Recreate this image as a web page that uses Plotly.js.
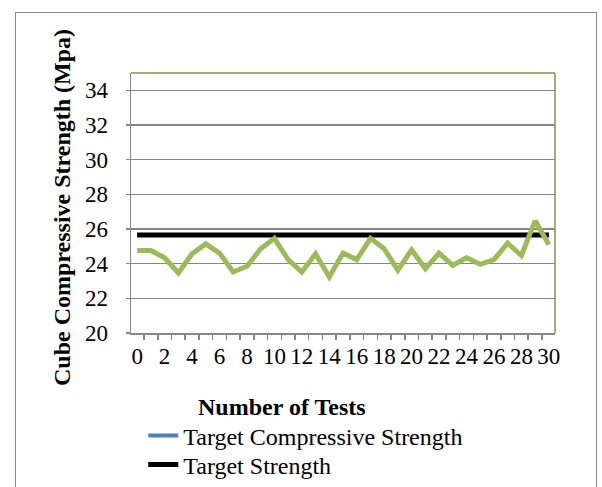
<!DOCTYPE html>
<html>
<head>
<meta charset="utf-8">
<script src="https://cdn.plot.ly/plotly-3.0.1.min.js"></script>
<style>
  html, body { margin: 0; padding: 0; background: #ffffff; }
  #frame { position: absolute; left: 15px; top: 12px; width: 582px; height: 490px; border: 1.5px solid #8c8c8c; box-sizing: border-box; }
  #chart { position: absolute; left: 0; top: 0; width: 602px; height: 487px; }
</style>
</head>
<body>
<div id="frame"></div>
<div id="chart"></div>
<script>
const tests = [0,1,2,3,4,5,6,7,8,9,10,11,12,13,14,15,16,17,18,19,20,21,22,23,24,25,26,27,28,29,30];
const strength = [24.76,24.76,24.34,23.46,24.57,25.14,24.61,23.52,23.85,24.86,25.46,24.23,23.52,24.57,23.23,24.61,24.23,25.46,24.86,23.62,24.80,23.71,24.61,23.90,24.34,23.96,24.23,25.18,24.47,26.47,25.10];
const targetValue = 25.65;
const xTickVals = [0,2,4,6,8,10,12,14,16,18,20,22,24,26,28,30];
const yTickVals = [20,22,24,26,28,30,32,34];
const seriesNames = ["Target Compressive Strength", "Target Strength"];
const xTitle = "Number of Tests";
const yTitle = "Cube Compressive Strength (Mpa)";

const targetY = tests.map(() => targetValue);
const font = "'Liberation Serif', 'Times New Roman', serif";

const traces = [
  { x: tests, y: targetY, mode: "lines", name: seriesNames[0], legend: "legend", line: { color: "#4F81BD", width: 4 } },
  { x: tests, y: targetY, mode: "lines", name: seriesNames[1], legend: "legend2", line: { color: "#000000", width: 5 } },
  { x: tests, y: strength, mode: "lines", name: "Strength", showlegend: false, line: { color: "#9BBB59", width: 5 } }
];

const legendBase = {
  xref: "container", yref: "container", x: 0.238, xanchor: "left", yanchor: "middle",
  bgcolor: "rgba(0,0,0,0)", borderwidth: 0, font: { family: font, size: 24, color: "#000000" }
};

const layout = {
  width: 602, height: 487,
  margin: { l: 131, r: 47, t: 73, b: 154, autoexpand: false },
  paper_bgcolor: "rgba(0,0,0,0)",
  plot_bgcolor: "#ffffff",
  font: { family: font, size: 23, color: "#000000" },
  showlegend: true,
  legend: Object.assign({}, legendBase, { y: 1 - 436 / 487 }),
  legend2: Object.assign({}, legendBase, { y: 1 - 465 / 487 }),
  xaxis: {
    automargin: false,
    range: [-0.45, 30.45], tickmode: "array", tickvals: xTickVals, ticks: "", tickangle: 0,
    showgrid: false, zeroline: false, showline: true, linecolor: "#868686", linewidth: 1.5,
    ticklabelstandoff: 2,
    minor: { tick0: 0.5, dtick: 1, ticks: "outside", ticklen: 5, tickcolor: "#868686", tickwidth: 1.5, showgrid: false },
    tickfont: { family: font, size: 23, color: "#000000" }
  },
  yaxis: {
    automargin: false,
    range: [20, 35], tickmode: "array", tickvals: yTickVals, ticks: "outside", ticklen: 4,
    tickcolor: "#868686", tickwidth: 1.5,
    showgrid: true, gridcolor: "#868686", gridwidth: 1.5, zeroline: false,
    showline: true, linecolor: "#868686", linewidth: 1.5,
    ticklabelstandoff: 13,
    tickfont: { family: font, size: 23, color: "#000000" }
  },
  shapes: [
    { type: "line", xref: "paper", yref: "paper", x0: 0, x1: 1, y0: 1, y1: 1, line: { color: "#948A54", width: 1.5 } },
    { type: "line", xref: "paper", yref: "paper", x0: 1, x1: 1, y0: 0, y1: 1, line: { color: "#948A54", width: 1.5 } }
  ],
  annotations: [
    { text: "<b>" + xTitle + "</b>", xref: "paper", yref: "paper", x: (282 - 131) / 424, y: (333 - 407) / 260,
      xanchor: "center", yanchor: "middle", showarrow: false, font: { family: font, size: 24, color: "#000000" } },
    { text: "<b>" + yTitle + "</b>", xref: "paper", yref: "paper", x: (62 - 131) / 424, y: (333 - 208) / 260,
      xanchor: "center", yanchor: "middle", textangle: -90, showarrow: false, font: { family: font, size: 24, color: "#000000" } }
  ]
};

Plotly.newPlot("chart", traces, layout, { displayModeBar: false, staticPlot: true });
</script>
</body>
</html>
